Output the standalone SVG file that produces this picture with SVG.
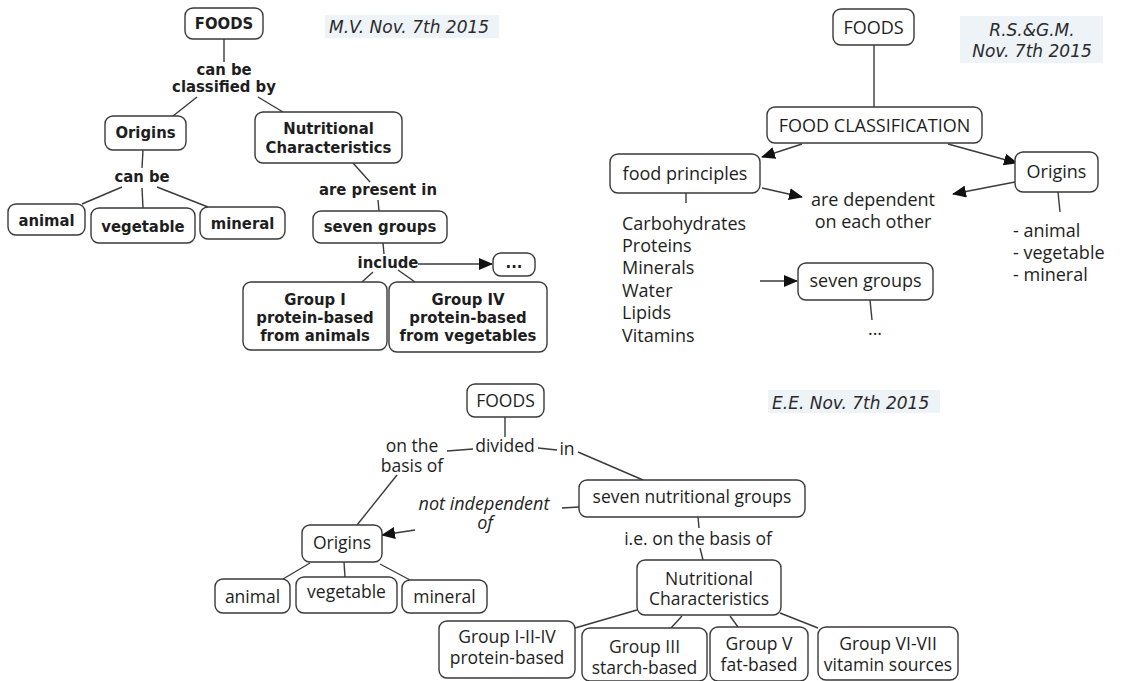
<svg xmlns="http://www.w3.org/2000/svg" width="1131" height="681" viewBox="0 0 1131 681">
  <style>
    .box { fill: #ffffff; stroke: #3a3a3a; stroke-width: 1.4; }
    .tag { fill: #eef3f8; stroke: none; }
    .ln { fill: none; stroke: #3a3a3a; stroke-width: 1.4; }
    .b { font-family: "DejaVu Sans Condensed", "DejaVu Sans", Verdana, sans-serif; font-weight: bold; font-size: 16.5px; fill: #1e1e1e; text-anchor: middle; }
    .r { font-family: "Open Sans", "Noto Sans", sans-serif; font-size: 18px; fill: #1e1e1e; }
    .s { font-family: "Open Sans", "Noto Sans", sans-serif; font-size: 17.5px; fill: #1e1e1e; }
    .m { text-anchor: middle; }
    .it { font-family: "DejaVu Sans", Verdana, sans-serif; font-style: italic; font-size: 17px; fill: #2a2a2a; }
    .iti { font-family: "Open Sans", "Noto Sans", sans-serif; font-style: italic; font-size: 18px; fill: #1e1e1e; text-anchor: middle; }
  </style>
  <defs>
    <marker id="arrow" markerUnits="userSpaceOnUse" markerWidth="14" markerHeight="12" refX="13" refY="6" orient="auto">
      <path d="M0,0 L14,6 L0,12 Z" fill="#111111"/>
    </marker>
  </defs>

  <!-- Connectors -->
  <g id="connectors" class="ln">
    <!-- top-left map -->
    <path d="M224,39 L224,62"/>
    <path d="M197,97 L173,116"/>
    <path d="M258,97 L283,112"/>
    <path d="M143,150 L142,168"/>
    <path d="M122,187 L82,204"/>
    <path d="M142,188 L143,208"/>
    <path d="M157,187 L208,207"/>
    <path d="M353,163 L370,182"/>
    <path d="M378,200 L379,211"/>
    <path d="M383,243 L384,254"/>
    <path d="M418,264 L492,264" marker-end="url(#arrow)"/>
    <path d="M373,272 L362,282"/>
    <path d="M398,270 L415,282"/>
    <!-- top-right map -->
    <path d="M874,45 L874,107"/>
    <path d="M802,144 L762,157" marker-end="url(#arrow)"/>
    <path d="M948,144 L1017,163" marker-end="url(#arrow)"/>
    <path d="M762,188 L802,197" marker-end="url(#arrow)"/>
    <path d="M1015,182 L953,194" marker-end="url(#arrow)"/>
    <path d="M686,193 L686,203"/>
    <path d="M1058,192 L1060,212"/>
    <path d="M760,281 L797,281" marker-end="url(#arrow)"/>
    <path d="M870,300 L872,320"/>
    <!-- bottom map -->
    <path d="M505,417 L505,437"/>
    <path d="M447,451 L473,449"/>
    <path d="M538,448 L557,450"/>
    <path d="M578,452 L643,480"/>
    <path d="M562,508 L579,507"/>
    <path d="M397,475 L357,525"/>
    <path d="M415,530 L382,535" marker-end="url(#arrow)"/>
    <path d="M698,517 L699,528"/>
    <path d="M700,548 L703,560"/>
    <path d="M310,563 L283,579"/>
    <path d="M344,562 L345,577"/>
    <path d="M380,564 L410,580"/>
    <path d="M637,610 L575,628"/>
    <path d="M682,616 L671,628"/>
    <path d="M730,616 L738,627"/>
    <path d="M780,613 L818,628"/>
  </g>

  <!-- ===== Map 1 (top left) ===== -->
  <g id="tl-tag"><rect class="tag" x="325" y="15" width="174" height="23"/><text class="it" x="329" y="33">M.V. Nov. 7th 2015</text></g>
  <g id="tl-foods"><rect class="box" x="185" y="8" width="78" height="31" rx="8"/><text class="b" x="224" y="29">FOODS</text></g>
  <g id="tl-link1"><text class="b" x="224" y="75">can be</text><text class="b" x="224" y="92">classified by</text></g>
  <g id="tl-origins"><rect class="box" x="105" y="116" width="81" height="34" rx="8"/><text class="b" x="145.5" y="138">Origins</text></g>
  <g id="tl-nutr"><rect class="box" x="255" y="112" width="147" height="51" rx="8"/><text class="b" x="328.5" y="134">Nutritional</text><text class="b" x="328.5" y="153">Characteristics</text></g>
  <g id="tl-link2"><text class="b" x="142" y="182">can be</text></g>
  <g id="tl-animal"><rect class="box" x="8" y="204" width="77" height="31" rx="8"/><text class="b" x="46.5" y="226">animal</text></g>
  <g id="tl-vegetable"><rect class="box" x="91" y="208" width="104" height="35" rx="8"/><text class="b" x="143" y="232">vegetable</text></g>
  <g id="tl-mineral"><rect class="box" x="200" y="207" width="85" height="32" rx="8"/><text class="b" x="242.5" y="229">mineral</text></g>
  <g id="tl-link3"><text class="b" x="378" y="195">are present in</text></g>
  <g id="tl-seven"><rect class="box" x="313" y="211" width="134" height="32" rx="8"/><text class="b" x="380" y="232">seven groups</text></g>
  <g id="tl-link4"><text class="b" x="388" y="268">include</text></g>
  <g id="tl-more"><rect class="box" x="493" y="253" width="42" height="23" rx="8"/><text class="b" x="514" y="268">...</text></g>
  <g id="tl-group1"><rect class="box" x="243" y="282" width="144" height="68" rx="8"/><text class="b" x="315" y="305">Group I</text><text class="b" x="315" y="323">protein-based</text><text class="b" x="315" y="341">from animals</text></g>
  <g id="tl-group4"><rect class="box" x="389" y="282" width="158" height="70" rx="8"/><text class="b" x="468" y="305">Group IV</text><text class="b" x="468" y="323">protein-based</text><text class="b" x="468" y="341">from vegetables</text></g>

  <!-- ===== Map 2 (top right) ===== -->
  <g id="tr-tag"><rect class="tag" x="960" y="16" width="143" height="47"/><text class="it" x="1032" y="36" text-anchor="middle" font-size="18">R.S.&amp;G.M.</text><text class="it" x="1032" y="57" text-anchor="middle" font-size="18">Nov. 7th 2015</text></g>
  <g id="tr-foods"><rect class="box" x="833" y="9" width="81" height="36" rx="8"/><text class="r m" x="873.5" y="34">FOODS</text></g>
  <g id="tr-class"><rect class="box" x="767" y="107" width="215" height="36" rx="8"/><text class="r m" x="874.5" y="132">FOOD CLASSIFICATION</text></g>
  <g id="tr-principles"><rect class="box" x="610" y="154" width="150" height="39" rx="8"/><text class="r m" x="685" y="180">food principles</text></g>
  <g id="tr-origins"><rect class="box" x="1015" y="152" width="83" height="40" rx="8"/><text class="r m" x="1056.5" y="178">Origins</text></g>
  <g id="tr-dependent"><text class="r m" x="873" y="206">are dependent</text><text class="r m" x="873" y="228">on each other</text></g>
  <g id="tr-list">
    <text class="r" x="622" y="230">Carbohydrates</text>
    <text class="r" x="622" y="252">Proteins</text>
    <text class="r" x="622" y="274">Minerals</text>
    <text class="r" x="622" y="297">Water</text>
    <text class="r" x="622" y="319">Lipids</text>
    <text class="r" x="622" y="342">Vitamins</text>
  </g>
  <g id="tr-origin-list">
    <text class="r" x="1013" y="237">- animal</text>
    <text class="r" x="1013" y="259">- vegetable</text>
    <text class="r" x="1013" y="281">- mineral</text>
  </g>
  <g id="tr-seven"><rect class="box" x="798" y="263" width="135" height="37" rx="8"/><text class="r m" x="865.5" y="287">seven groups</text></g>
  <g id="tr-more"><text class="r m" x="875" y="335">...</text></g>

  <!-- ===== Map 3 (bottom) ===== -->
  <g id="b-tag"><rect class="tag" x="768" y="390" width="172" height="23"/><text class="it" x="772" y="409">E.E. Nov. 7th 2015</text></g>
  <g id="b-foods"><rect class="box" x="467" y="384" width="77" height="33" rx="8"/><text class="s m" x="505.5" y="407" font-size="17">FOODS</text></g>
  <g id="b-divided"><text class="s m" x="505" y="452">divided</text></g>
  <g id="b-basis"><text class="s m" x="412" y="452">on the</text><text class="s m" x="412" y="472">basis of</text></g>
  <g id="b-in"><text class="s m" x="567" y="455">in</text></g>
  <g id="b-seven"><rect class="box" x="579" y="480" width="226" height="37" rx="8"/><text class="s m" x="692" y="503" font-size="18">seven nutritional groups</text></g>
  <g id="b-notind"><text class="iti" x="484" y="510">not independent</text><text class="iti" x="485" y="529">of</text></g>
  <g id="b-origins"><rect class="box" x="302" y="525" width="80" height="37" rx="8"/><text class="s m" x="342" y="549">Origins</text></g>
  <g id="b-animal"><rect class="box" x="215" y="579" width="75" height="34" rx="8"/><text class="s m" x="252.5" y="603">animal</text></g>
  <g id="b-vegetable"><rect class="box" x="296" y="577" width="101" height="36" rx="8"/><text class="s m" x="346.5" y="598">vegetable</text></g>
  <g id="b-mineral"><rect class="box" x="402" y="580" width="85" height="33" rx="8"/><text class="s m" x="444.5" y="603">mineral</text></g>
  <g id="b-ie"><text class="s m" x="698" y="545">i.e. on the basis of</text></g>
  <g id="b-nutr"><rect class="box" x="637" y="560" width="144" height="55" rx="8"/><text class="s m" x="709" y="585" font-size="18">Nutritional</text><text class="s m" x="709" y="605" font-size="18">Characteristics</text></g>
  <g id="b-g124"><rect class="box" x="439" y="621" width="136" height="57" rx="8"/><text class="s m" x="507" y="643" font-size="18">Group I-II-IV</text><text class="s m" x="507" y="664" font-size="18">protein-based</text></g>
  <g id="b-g3"><rect class="box" x="582" y="628" width="125" height="53" rx="8"/><text class="s m" x="644.5" y="653" font-size="18">Group III</text><text class="s m" x="644.5" y="674" font-size="18">starch-based</text></g>
  <g id="b-g5"><rect class="box" x="710" y="627" width="98" height="54" rx="8"/><text class="s m" x="759" y="650" font-size="18">Group V</text><text class="s m" x="759" y="671" font-size="18">fat-based</text></g>
  <g id="b-g67"><rect class="box" x="818" y="627" width="140" height="53" rx="8"/><text class="s m" x="888" y="650" font-size="18">Group VI-VII</text><text class="s m" x="888" y="671" font-size="18">vitamin sources</text></g>
</svg>
